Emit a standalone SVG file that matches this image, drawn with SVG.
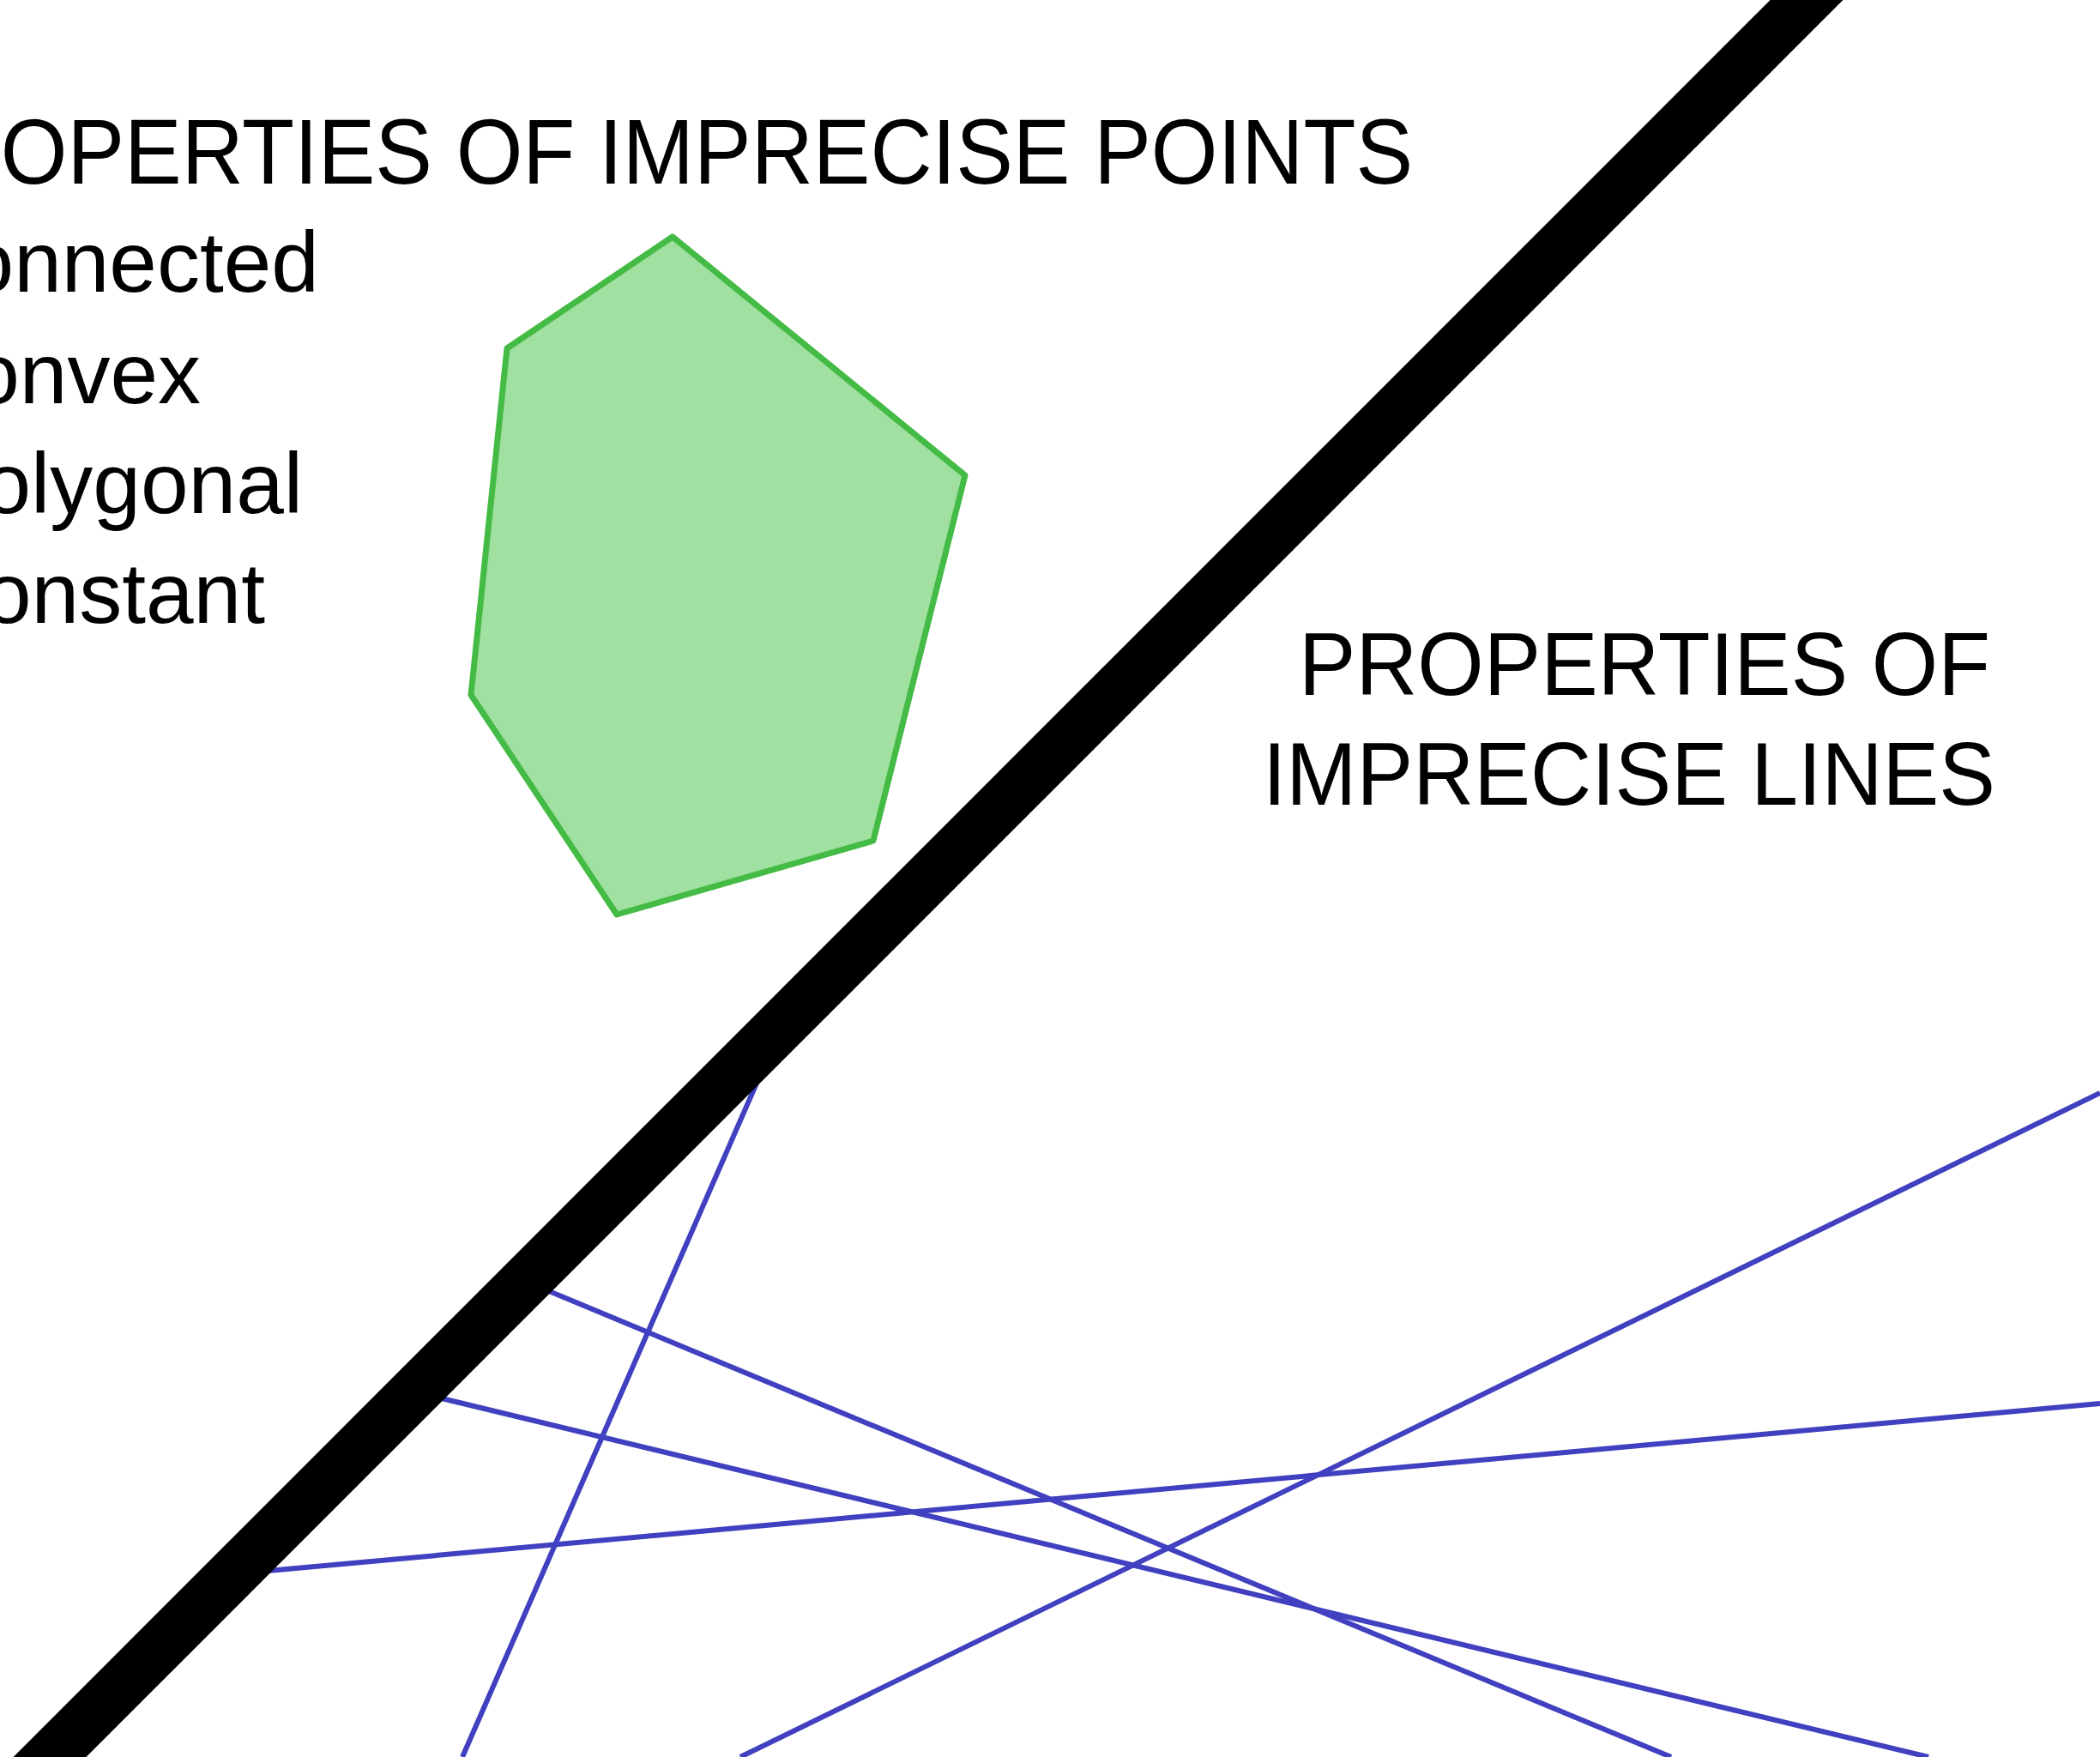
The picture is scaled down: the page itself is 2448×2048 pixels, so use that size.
<svg xmlns="http://www.w3.org/2000/svg" width="2448" height="2048" viewBox="0 0 2448 2048">
<style>
.t{font-family:"Liberation Sans","DejaVu Sans",sans-serif;fill:#000}
.blue{stroke:#4040c0;stroke-width:6;fill:none}
</style>
<rect width="2448" height="2048" fill="#fff"/>
<g id="title-points">
<text class="t" x="-138" y="214" font-size="107" textLength="1785" lengthAdjust="spacingAndGlyphs">PROPERTIES OF IMPRECISE POINTS</text>
</g>
<g id="list">
<text class="t" x="372" y="340" font-size="100" text-anchor="end">Connected</text>
<text class="t" x="234" y="470" font-size="100" text-anchor="end">Convex</text>
<text class="t" x="353" y="598" font-size="100" text-anchor="end">Polygonal</text>
<text class="t" x="309" y="726" font-size="100" text-anchor="end">Constant</text>
</g>
<g id="title-lines">
<text class="t" x="1514" y="810" font-size="104" textLength="806" lengthAdjust="spacingAndGlyphs">PROPERTIES OF</text>
<text class="t" x="1472" y="938" font-size="104" textLength="854" lengthAdjust="spacingAndGlyphs">IMPRECISE LINES</text>
</g>
<g id="polygon">
<polygon points="784,276 1125,554 1018,980 719,1066 549,810 591,406" fill="#a0e0a0" stroke="#44bb44" stroke-width="7" stroke-linejoin="round"/>
</g>
<g id="lines">
<line class="blue" x1="884" y1="1258" x2="539" y2="2048"/>
<line class="blue" x1="640" y1="1505" x2="1948" y2="2048"/>
<line class="blue" x1="515" y1="1630" x2="2248" y2="2048"/>
<line class="blue" x1="312" y1="1831" x2="2448" y2="1636"/>
<line class="blue" x1="863" y1="2048" x2="2448" y2="1274"/>
</g>
<g id="divider">
<line x1="2156" y1="-50" x2="-44" y2="2150" stroke="#000" stroke-width="60"/>
</g>
</svg>
